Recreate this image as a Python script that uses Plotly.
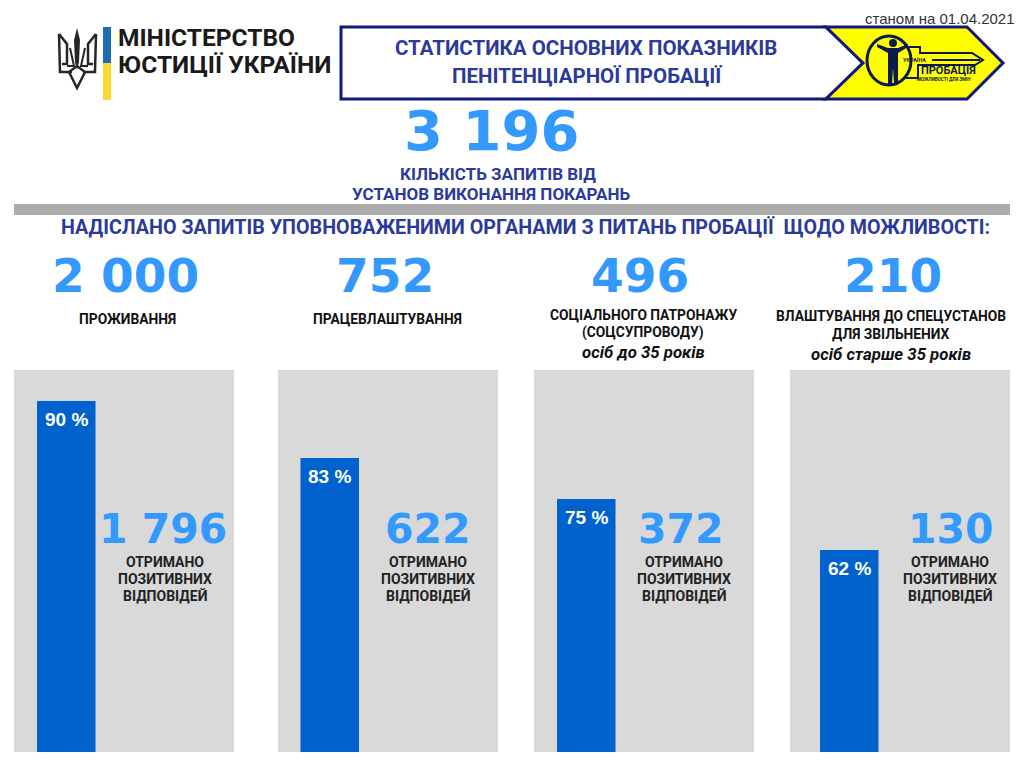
"""
Probation statistics infographic
"""
import plotly.graph_objects as go

W, H = 1024, 768

# data
requests_total = 3196
requested = [2000, 752, 496, 210]
positive = [1796, 622, 372, 130]
percent_labels = ["90 %", "83 %", "75 %", "62 %"]
# drawn bar heights, on the scale where the first bar is 90 (bars are not proportional to their labels)
bar_heights = [90, 75.4, 64.9, 51.8]
headline = "НАДІСЛАНО ЗАПИТІВ УПОВНОВАЖЕНИМИ ОРГАНАМИ З ПИТАНЬ ПРОБАЦІЇ  ЩОДО МОЖЛИВОСТІ:"
total_label = ["КІЛЬКІСТЬ ЗАПИТІВ ВІД", "УСТАНОВ ВИКОНАННЯ ПОКАРАНЬ"]
title_lines = ["СТАТИСТИКА ОСНОВНИХ ПОКАЗНИКІВ", "ПЕНІТЕНЦІАРНОЇ ПРОБАЦІЇ"]
answer_lines = ["ОТРИМАНО", "ПОЗИТИВНИХ", "ВІДПОВІДЕЙ"]
category_lines = [
    ["ПРОЖИВАННЯ"],
    ["ПРАЦЕВЛАШТУВАННЯ"],
    ["СОЦІАЛЬНОГО ПАТРОНАЖУ", "(СОЦСУПРОВОДУ)"],
    ["ВЛАШТУВАННЯ ДО СПЕЦУСТАНОВ", "ДЛЯ ЗВІЛЬНЕНИХ"],
]
age_lines = ["", "", "осіб до 35 років", "осіб старше 35 років"]

NAVY = "#14177f"
TITLE = "#2b3a9b"
SKY = "#3399ff"
BAR = "#0062cc"
PANEL = "#d9d9d9"
YELLOW = "#ffff00"
LOGO = "#0b1a4a"
TEXT_FONT = "Roboto"
NUM_FONT = "DejaVu Sans"

panel_left = [14, 278, 534, 790]
panel_w = 220
panel_top, panel_bottom = 370, 752
bar_w = 58.5
bar_offset = [23, 22.5, 23, 30]
scale_max = (panel_bottom - panel_top) / 3.9


def px(x):
    return x / W


def py(y):
    return 1 - y / H


def poly(points, close=True):
    d = "M" + " L".join(f"{px(x):.5f},{py(y):.5f}" for x, y in points)
    return d + (" Z" if close else "")


fig = go.Figure()
shapes = []
annotations = []


def label(text, x, y, size, color="#000000", font=TEXT_FONT, bold=True, anchor="center"):
    body = f"<b>{text}</b>" if bold else text
    annotations.append(dict(text=body, x=px(x), y=py(y), xref="paper", yref="paper",
                            xanchor=anchor, yanchor="middle", showarrow=False,
                            font=dict(family=font, size=size, color=color)))


def draw(path, fill="rgba(0,0,0,0)", line=None, width=0):
    shapes.append(dict(type="path", path=path, xref="paper", yref="paper", fillcolor=fill,
                       line=dict(color=line or "rgba(0,0,0,0)", width=width), layer="above"))


# one subplot per grey panel
for i, left in enumerate(panel_left):
    suffix = "" if i == 0 else str(i + 1)
    fig.add_trace(go.Bar(x=[0], y=[bar_heights[i]], width=[1], marker_color=BAR, marker_line_width=0,
                         showlegend=False, xaxis=f"x{suffix}", yaxis=f"y{suffix}"))
    units = panel_w / bar_w
    x_start = -0.5 - bar_offset[i] / bar_w
    fig.update_layout({
        f"xaxis{suffix}": dict(domain=[px(left), px(left + panel_w)], range=[x_start, x_start + units],
                               visible=False, fixedrange=True, anchor=f"y{suffix}"),
        f"yaxis{suffix}": dict(domain=[py(panel_bottom), py(panel_top)], range=[0, scale_max],
                               visible=False, fixedrange=True, anchor=f"x{suffix}"),
    })
    annotations.append(dict(text=f"<b>{percent_labels[i]}</b>", x=0, y=bar_heights[i], yshift=-19,
                            xref=f"x{suffix}", yref=f"y{suffix}", showarrow=False, yanchor="middle",
                            font=dict(family="Liberation Sans", size=19, color="white")))

# header banner
draw(poly([(341, 27), (826, 27), (863, 63), (826, 99), (341, 99)]), "#ffffff", NAVY, 3)
draw(poly([(826, 27), (967, 27), (1003, 63), (967, 99), (826, 99), (863, 63)]), YELLOW, NAVY, 3)

# probation key logo
shapes.append(dict(type="circle", xref="paper", yref="paper", x0=px(867), x1=px(911), y0=py(36), y1=py(85),
                   line=dict(color=LOGO, width=3), layer="above"))
shapes.append(dict(type="circle", xref="paper", yref="paper", x0=px(889), x1=px(897), y0=py(39), y1=py(47),
                   fillcolor=LOGO, line=dict(width=0), layer="above"))
draw(poly([(877, 44), (888, 48), (898, 48), (908, 44), (908, 47), (898, 53), (898, 84), (894, 84), (893, 68),
           (892, 84), (888, 84), (888, 53), (877, 47)]), LOGO)
draw(poly([(909, 47), (920, 47), (920, 53), (972, 53), (983, 60), (975, 65), (918, 65), (918, 78), (906, 78)], close=False),
     line=LOGO, width=2)
draw(poly([(932, 60), (980, 60)], close=False), line=LOGO, width=2)
label("ПРОБАЦІЯ", 948, 71, 11, LOGO)
label("УКРАЇНА", 914, 60, 5.5, LOGO)
label("МОЖЛИВОСТІ ДЛЯ ЗМІН", 944, 79, 4.5, LOGO)

# ministry logo: trident and flag stripe
draw(poly([(103, 27), (111, 27), (111, 63), (103, 63)]), "#1f6db5")
draw(poly([(103, 63), (111, 63), (111, 100), (103, 100)]), "#fdd835")
trident = "#262626"
draw(poly([(77, 28), (74, 40), (75, 62), (77, 70), (79, 62), (80, 40)]), trident)
draw(poly([(59, 34), (60, 72), (72, 72)], close=False), line=trident, width=2.5)
draw(poly([(96, 34), (95, 72), (83, 72)], close=False), line=trident, width=2.5)
draw(poly([(59, 34), (67, 44), (67, 64), (62, 64)], close=False), line=trident, width=2.5)
draw(poly([(96, 34), (88, 44), (88, 64), (93, 64)], close=False), line=trident, width=2.5)
draw(poly([(70, 48), (74, 66), (67, 66)], close=False), line=trident, width=2)
draw(poly([(85, 48), (81, 66), (88, 66)], close=False), line=trident, width=2)
draw(poly([(69, 72), (77, 88), (85, 72), (77, 66)]), line=trident, width=2.5)

# grey rule under the total
draw(poly([(14, 204), (1010, 204), (1010, 215), (14, 215)]), "#ababab")

label("МІНІСТЕРСТВО", 116, 37, 24.5, "#1a1a1a", anchor="left")
label("ЮСТИЦІЇ УКРАЇНИ", 116, 65, 24.5, "#1a1a1a", anchor="left")
label("станом на 01.04.2021", 1017, 18, 15, "#333333", font="Liberation Sans", bold=False, anchor="right")

label(title_lines[0], 586, 48, 20.5, TITLE)
label(title_lines[1], 587, 76, 20.5, TITLE)

label(f"{requests_total:,}".replace(",", " "), 491, 131, 56, SKY, font=NUM_FONT)
label(total_label[0], 498, 174, 17, TITLE)
label(total_label[1], 491, 194, 17, TITLE)
label(headline, 525, 227, 19.7, TITLE)

top_centers = [125, 385, 640, 893]
category_centers = [127, 387, 643, 891]
category_rows = [[319], [319], [315, 332], [316, 334]]
age_rows = [0, 0, 352, 354]
answer_num_centers = [163, 428, 681, 951]
answer_centers = [165, 428, 684, 950]

for i in range(4):
    label(f"{requested[i]:,}".replace(",", " "), top_centers[i], 275, 47, SKY, font=NUM_FONT)
    for line, y in zip(category_lines[i], category_rows[i]):
        label(line, category_centers[i], y, 13.8, "#111111")
    if age_lines[i]:
        label(f"<i>{age_lines[i]}</i>", category_centers[i], age_rows[i], 16.8, "#111111")
    label(f"{positive[i]:,}".replace(",", " "), answer_num_centers[i], 529, 41, SKY, font=NUM_FONT)
    for line, y in zip(answer_lines, [562, 579, 596]):
        label(line, answer_centers[i], y, 14, "#222222")

fig.update_layout(width=W, height=H, margin=dict(t=0, b=0, l=0, r=0),
                  paper_bgcolor="#ffffff", plot_bgcolor=PANEL,
                  shapes=shapes, annotations=annotations)
fig.write_html("out.html", post_script="document.body.style.margin='0';document.body.style.overflow='hidden';",
               config={"displayModeBar": False})
